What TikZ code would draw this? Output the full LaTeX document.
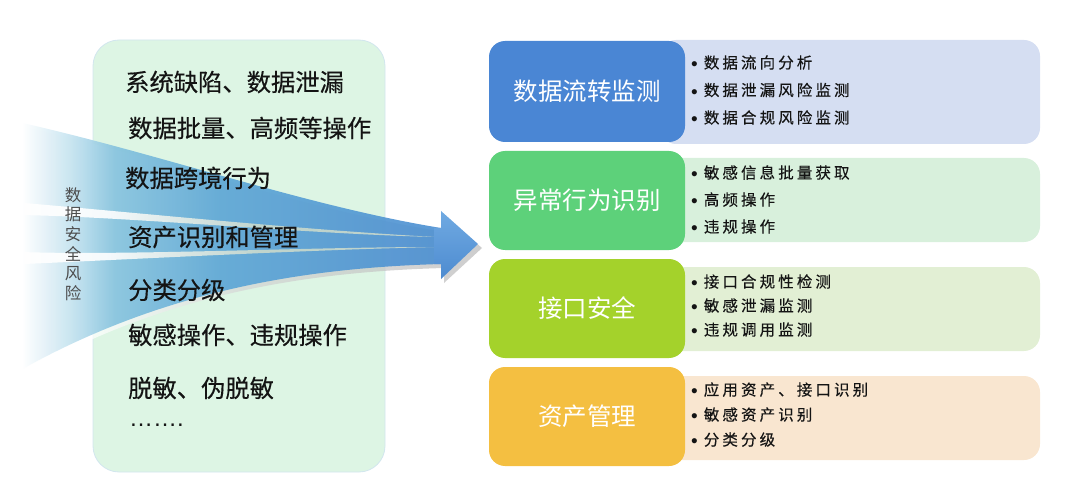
\documentclass[tikz,border=0pt]{standalone}
\usepackage{fontspec}
\newfontfamily\cjk{Noto Sans CJK SC}
\newfontfamily\cjkm[FakeBold=0.35]{Noto Sans CJK SC}
\newfontfamily\cjkls[LetterSpace=20,FakeBold=0.35]{Noto Sans CJK SC}
\newfontfamily\lat{Liberation Sans}
\definecolor{leftfill}{HTML}{DDF5E4}
\definecolor{leftline}{HTML}{D2E6EE}
\definecolor{cblue}{HTML}{4A86D4}
\definecolor{cgreen}{HTML}{5DD17A}
\definecolor{clime}{HTML}{A4D22B}
\definecolor{corange}{HTML}{F4BF41}
\definecolor{lblue}{HTML}{D5DEF2}
\definecolor{lgreen}{HTML}{D8F0DC}
\definecolor{llime}{HTML}{E2EFD4}
\definecolor{lorange}{HTML}{F9E6D0}
\definecolor{fanA}{HTML}{C5E3F0}
\definecolor{fanB}{HTML}{86C3DE}
\definecolor{fanC}{HTML}{5EA8D6}
\definecolor{fanD}{HTML}{4E90D2}
\definecolor{headtop}{HTML}{70AAE2}
\definecolor{headbot}{HTML}{4D8BD0}
\definecolor{gapcol}{HTML}{C9D9CC}
\definecolor{shadowcol}{HTML}{B8B8B8}
\definecolor{txt}{HTML}{141414}
\definecolor{vtxt}{HTML}{4D4D4D}
% stops mapped to 25bp (left edge of path) .. 75bp (right edge of path)
\pgfdeclarehorizontalshading{fanshade}{100bp}{color(0bp)=(white); color(27.5bp)=(white); color(33bp)=(fanA); color(38bp)=(fanB); color(50bp)=(fanC); color(75bp)=(fanD); color(100bp)=(fanD)}
\pgfdeclarehorizontalshading{shadowshade}{100bp}{color(0bp)=(white); color(35bp)=(white); color(50bp)=(shadowcol!60!white); color(75bp)=(shadowcol); color(100bp)=(shadowcol)}
\pgfdeclarehorizontalshading{gapshade}{100bp}{color(0bp)=(white); color(37.5bp)=(white); color(55bp)=(gapcol); color(75bp)=(gapcol); color(100bp)=(gapcol)}
\tikzset{
  leftitem/.style={anchor=west, inner sep=0pt, font=\cjkm\fontsize{24.3}{24}\selectfont, text=txt},
  cbox/.style={rounded corners=16pt, minimum width=196pt, minimum height=101pt, inner sep=0pt, text=white, font=\cjk\fontsize{24.5}{25}\selectfont},
  lbox/.style={rounded corners=16pt},
  bullets/.style={anchor=west, inner sep=0pt, align=left, text=txt},
  gap/.style={shading=gapshade, fill opacity=0.9},
}
\newcommand{\bul}{\raisebox{-2.2pt}{\lat\fontsize{19}{14}\selectfont •}\hspace{6pt}}
\begin{document}
\begin{tikzpicture}[x=1pt,y=-1pt]
\useasboundingbox (0,0) rectangle (1080,484);
% left box
\node[draw=leftline, line width=0.8pt, fill=leftfill, rounded corners=26pt, minimum width=292pt, minimum height=432pt, inner sep=0pt] (leftbox) at (239,256) {};
% fan arrow shadow
\path[shading=shadowshade, fill opacity=0.7] (3,122) .. controls (150,154) and (300,209) .. (444,232) -- (444,215) -- (482,248) -- (444,283) -- (444,268) .. controls (300,272) and (150,296) .. (3,386) -- cycle;
% fan arrow
\path[shading=fanshade, fill opacity=0.92] (0,118) .. controls (150,150) and (300,205) .. (441,228) -- (441,264) .. controls (300,268) and (150,292) .. (0,382) -- cycle;
\path[gap] (0,201) .. controls (100,209) and (300,230) .. (436,237) .. controls (300,234) and (100,214) .. (0,215) -- cycle;
\path[gap] (0,251) .. controls (100,257) and (300,247) .. (436,247) .. controls (300,250) and (100,261) .. (0,265) -- cycle;
\path[top color=headtop, bottom color=headbot] (434,228) -- (441,228) -- (441,211) -- (478,244) -- (441,279) -- (441,264) -- (434,264) -- cycle;
\coordinate (tip) at (478,244);
% vertical label
\node[align=center, inner sep=0pt, text=vtxt, font=\cjk\fontsize{16.5}{19.6}\selectfont] (vlabel) at (73,244) {数\\据\\安\\全\\风\\险};
% left items
\node[leftitem] (i1) at (125,82) {系统缺陷、数据泄漏};
\node[leftitem] (i2) at (128,128) {数据批量、高频等操作};
\node[leftitem] (i3) at (125,178) {数据跨境行为};
\node[leftitem] (i4) at (128,237) {资产识别和管理};
\node[leftitem] (i5) at (128,290) {分类分级};
\node[leftitem] (i6) at (128,335) {敏感操作、违规操作};
\node[leftitem] (i7) at (128,388) {脱敏、伪脱敏};
\node[anchor=base west, inner sep=0pt, text=txt, font=\lat\fontsize{24}{24}\selectfont] (i8) at (129,426) {…….};
% light boxes
\fill[lblue, lbox] (660,40) rectangle (1040,144);
\fill[lgreen, lbox] (660,158) rectangle (1040,242);
\fill[llime, lbox] (660,267) rectangle (1040,351);
\fill[lorange, lbox] (660,376) rectangle (1040,460);
% colored boxes
\node[cbox, fill=cblue] (b1) at (587,91.5) {数据流转监测};
\node[cbox, fill=cgreen, minimum height=99pt] (b2) at (587,200.5) {异常行为识别};
\node[cbox, fill=clime, minimum height=99pt] (b3) at (587,308.5) {接口安全};
\node[cbox, fill=corange, minimum height=99pt] (b4) at (587,416.5) {资产管理};
% bullets
\node[bullets, font=\cjkls\fontsize{15.5}{27.5}\selectfont] (t1) at (691,90.5) {\bul 数据流向分析\\\bul 数据泄漏风险监测\\\bul 数据合规风险监测};
\node[bullets, font=\cjkls\fontsize{15.5}{27}\selectfont] (t2) at (691,200) {\bul 敏感信息批量获取\\\bul 高频操作\\\bul 违规操作};
\node[bullets, font=\cjkls\fontsize{15.5}{24}\selectfont] (t3) at (691,306) {\bul 接口合规性检测\\\bul 敏感泄漏监测\\\bul 违规调用监测};
\node[bullets, font=\cjkls\fontsize{15.5}{25}\selectfont] (t4) at (691,415) {\bul 应用资产、接口识别\\\bul 敏感资产识别\\\bul 分类分级};
\end{tikzpicture}
\end{document}
